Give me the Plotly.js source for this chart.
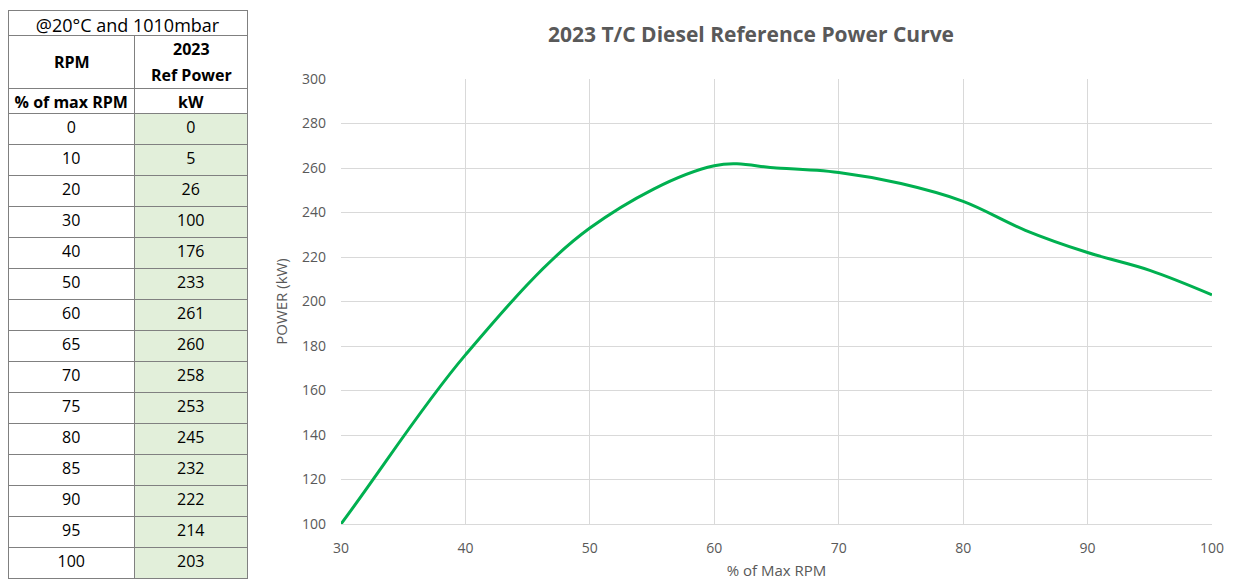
<!DOCTYPE html>
<html>
<head>
<meta charset="utf-8">
<script src="https://cdn.plot.ly/plotly-3.0.1.min.js"></script>
<style>
html,body{margin:0;padding:0;background:#fff;}
#chart{width:1245px;height:580px;}
</style>
</head>
<body>
<div id="chart"></div>
<script>
// ---- data ----
var conditionsLabel = "@20°C and 1010mbar";
var rpmHeader = "RPM";
var powerHeader = ["2023", "Ref Power"];
var unitsRow = ["%\u00a0of\u00a0max\u00a0RPM", "kW"];
var rpmPct = [0, 10, 20, 30, 40, 50, 60, 65, 70, 75, 80, 85, 90, 95, 100];
var refPowerKW = [0, 5, 26, 100, 176, 233, 261, 260, 258, 253, 245, 232, 222, 214, 203];
var chartTitle = "2023 T/C Diesel Reference Power Curve";
var xTitle = "% of Max RPM";
var yTitle = "POWER (kW)";

// ---- layout helpers (pixel -> paper) ----
var W = 1245, H = 580;
function px(x){ return x / W; }
function py(y){ return 1 - y / H; }

var FONT = "Open Sans, Liberation Sans, sans-serif";
var tblX = [px(8), px(248)];
var colW = [127, 113];
var lineCol = "#808080";
var tblFont = {family: FONT, size: 16, color: "#000"};
var tblBold = {family: FONT, size: 16, color: "#000", weight: "bold"};

var traces = [
  {
    type: "table",
    domain: {x: tblX, y: [py(51), py(10)]},
    columnwidth: [240],
    header: {values: [[conditionsLabel]], height: 25, align: "center",
             line: {color: lineCol, width: 1}, fill: {color: "#fff"},
             font: {family: FONT, size: 18, color: "#000"}},
    cells: {values: [[""]], height: 16, line: {color: "#fff", width: 0}, fill: {color: "#fff"}}
  },
  {
    type: "table",
    domain: {x: tblX, y: [py(104), py(35)]},
    columnwidth: colW,
    header: {values: [[""], [""]], height: 53, align: "center",
             line: {color: lineCol, width: 1}, fill: {color: "#fff"}, font: tblFont},
    cells: {values: [[""], [""]], height: 16, line: {color: "#fff", width: 0}, fill: {color: "#fff"}}
  },
  {
    type: "table",
    domain: {x: tblX, y: [0, py(88)]},
    columnwidth: colW,
    header: {values: [[unitsRow[0]], [unitsRow[1]]], height: 25, align: "center",
             line: {color: lineCol, width: 1}, fill: {color: "#fff"}, font: tblBold},
    cells: {values: [rpmPct, refPowerKW], height: 31, align: "center",
            line: {color: lineCol, width: 1}, fill: {color: ["#ffffff", "#e2efda"]}, font: tblFont}
  },
  {
    type: "scatter",
    mode: "lines",
    x: rpmPct,
    y: refPowerKW,
    line: {color: "#00b050", width: 3, shape: "spline", smoothing: 1},
    hoverinfo: "x+y",
    showlegend: false
  }
];

var axisFont = {family: FONT, size: 14, color: "#595959"};
var layout = {
  width: W, height: H,
  margin: {l: 0, r: 0, t: 0, b: 0},
  paper_bgcolor: "#fff",
  plot_bgcolor: "#fff",
  showlegend: false,
  font: {family: FONT},
  title: {
    text: "<b>" + chartTitle + "</b>",
    font: {family: FONT, size: 21, color: "#595959"},
    x: px(751), xref: "paper", xanchor: "center",
    y: py(35), yref: "paper", yanchor: "middle"
  },
  annotations: [
    {text: "<b>" + rpmHeader + "</b>", xref: "paper", yref: "paper",
     x: px(71.5), y: py(62), xanchor: "center", yanchor: "middle", showarrow: false,
     font: tblFont},
    {text: "<b>" + powerHeader[0] + "</b>", xref: "paper", yref: "paper",
     x: px(191.5), y: py(49), xanchor: "center", yanchor: "middle", showarrow: false,
     font: tblFont},
    {text: "<b>" + powerHeader[1] + "</b>", xref: "paper", yref: "paper",
     x: px(191.5), y: py(75), xanchor: "center", yanchor: "middle", showarrow: false,
     font: tblFont}
  ],
  xaxis: {
    domain: [px(341), px(1212)],
    range: [30, 100],
    dtick: 10, tick0: 0,
    showgrid: true, gridcolor: "#d9d9d9", gridwidth: 1,
    zeroline: false,
    showline: true, linecolor: "#d9d9d9", linewidth: 1,
    ticks: "", ticklabelstandoff: 11,
    tickfont: axisFont,
    title: {text: xTitle, font: {family: FONT, size: 15, color: "#595959"}, standoff: 11},
    fixedrange: true
  },
  yaxis: {
    domain: [py(524), py(79)],
    range: [100, 300],
    dtick: 20, tick0: 0,
    showgrid: true, gridcolor: "#d9d9d9", gridwidth: 1,
    zeroline: false,
    showline: false,
    ticks: "", ticklabelstandoff: 14,
    tickfont: axisFont,
    title: {text: yTitle, font: {family: FONT, size: 15, color: "#595959"}, standoff: 10},
    fixedrange: true
  }
};

Plotly.newPlot("chart", traces, layout, {displayModeBar: false, responsive: false});
</script>
</body>
</html>
